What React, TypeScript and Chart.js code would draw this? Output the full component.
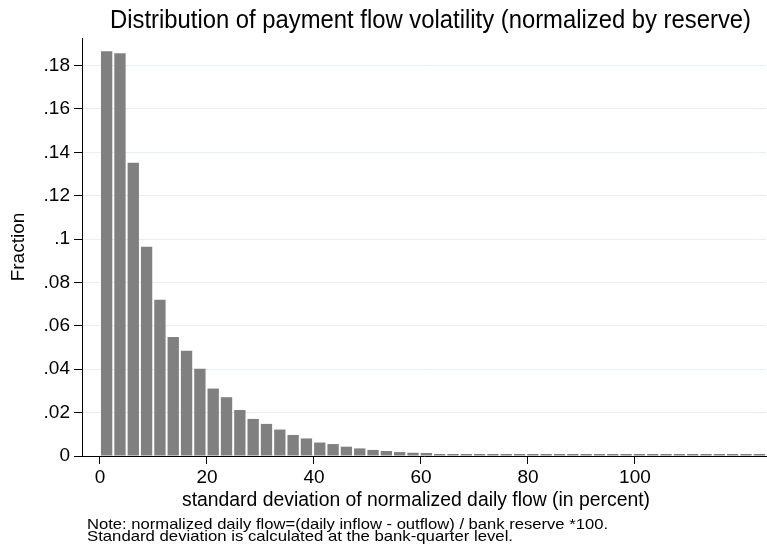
import React, { useEffect, useRef } from "react";
import { Chart, registerables } from "chart.js";

Chart.register(...registerables);

// ---- data ----
const BIN_WIDTH = 2.49;
const fractions = [
  0.1866, 0.1857, 0.1352, 0.0965, 0.072, 0.0549, 0.0485, 0.0402, 0.0311, 0.0271,
  0.0212, 0.0171, 0.0148, 0.0122, 0.0097, 0.0081, 0.0062, 0.0055, 0.0043, 0.0035,
  0.0028, 0.0023, 0.0018, 0.0015, 0.0014, 0.0009, 0.0009, 0.0009, 0.0008, 0.0006,
  0.0006, 0.0005, 0.0005, 0.0004, 0.0004, 0.0004, 0.0004, 0.0003, 0.0003, 0.0003,
  0.0003, 0.0003, 0.0003, 0.0002, 0.0002, 0.0002, 0.0002, 0.0002, 0.0002, 0.0002,
];
const xTickValues = [0, 20, 40, 60, 80, 100];
const yTickValues = [0, 0.02, 0.04, 0.06, 0.08, 0.1, 0.12, 0.14, 0.16, 0.18];
const yTickLabels = ["0", ".02", ".04", ".06", ".08", ".1", ".12", ".14", ".16", ".18"];
const X_MIN = -3.36;
const X_MAX = 124.5;
const Y_MAX = 0.1927;

const TITLE = "Distribution of payment flow volatility (normalized by reserve)";
const X_TITLE = "standard deviation of normalized daily flow (in percent)";
const Y_TITLE = "Fraction";
const NOTE_LINES = [
  "Note: normalized daily flow=(daily inflow - outflow) / bank reserve *100.",
  "Standard deviation is calculated at the bank-quarter level.",
];

const FONT_FAMILY = '"Liberation Sans", Arial, Helvetica, sans-serif';

function drawFit(
  ctx: CanvasRenderingContext2D,
  text: string,
  x: number,
  y: number,
  size: number,
  width: number
) {
  ctx.save();
  ctx.font = `${size}px ${FONT_FAMILY}`;
  const w = ctx.measureText(text).width;
  ctx.translate(x, y);
  ctx.scale(width / w, 1);
  ctx.textAlign = "left";
  ctx.textBaseline = "alphabetic";
  ctx.fillStyle = "#000";
  ctx.fillText(text, 0, 0);
  ctx.restore();
}

const textPlugin = {
  id: "stataText",
  afterDraw(chart: any) {
    const ctx: CanvasRenderingContext2D = chart.ctx;
    drawFit(ctx, TITLE, 110, 27.5, 25, 641);
    drawFit(ctx, X_TITLE, 182, 506, 20.5, 468);
    drawFit(ctx, NOTE_LINES[0], 87, 528.5, 14.5, 521);
    drawFit(ctx, NOTE_LINES[1], 87, 541, 14.5, 426);
    ctx.save();
    ctx.translate(24, 247);
    ctx.rotate(-Math.PI / 2);
    ctx.font = `19px ${FONT_FAMILY}`;
    ctx.textAlign = "center";
    ctx.textBaseline = "alphabetic";
    ctx.fillStyle = "#000";
    ctx.fillText(Y_TITLE, 0, 0);
    ctx.restore();
  },
};

export default function App() {
  const ref = useRef<HTMLCanvasElement | null>(null);
  useEffect(() => {
    if (!ref.current) return;
    const chart = new Chart(ref.current, {
      type: "bar",
      data: {
        datasets: [
          {
            data: fractions.map((y, i) => ({ x: (i + 0.5) * BIN_WIDTH, y })),
            backgroundColor: "#808080",
            borderWidth: 0,
            barPercentage: 1,
            categoryPercentage: 0.85,
            minBarLength: 2,
          },
        ],
      },
      options: {
        animation: false,
        responsive: false,
        layout: { padding: { left: 0, right: 1, top: 38, bottom: 0 } },
        plugins: {
          legend: { display: false },
          tooltip: { enabled: false },
          title: { display: false },
        },
        scales: {
          x: {
            type: "linear",
            min: X_MIN,
            max: X_MAX,
            offset: false,
            afterBuildTicks: (scale: any) => {
              scale.ticks = xTickValues.map((v) => ({ value: v }));
            },
            afterFit: (scale: any) => {
              scale.height = 96;
            },
            grid: {
              offset: false,
              drawOnChartArea: false,
              drawTicks: true,
              tickLength: 8,
              color: "#000",
              tickColor: "#000",
            },
            border: { display: true, color: "#000", width: 1, z: 1 },
            ticks: {
              color: "#000",
              padding: 2,
              maxRotation: 0,
              autoSkip: false,
              font: { family: FONT_FAMILY, size: 19 },
              callback: (v: any) => String(v),
            },
          },
          y: {
            min: 0,
            max: Y_MAX,
            afterBuildTicks: (scale: any) => {
              scale.ticks = yTickValues.map((v) => ({ value: v }));
            },
            afterFit: (scale: any) => {
              scale.width = 82;
            },
            grid: {
              drawOnChartArea: true,
              drawTicks: true,
              tickLength: 8,
              color: "#e8f0f2",
              tickColor: "#000",
            },
            border: { display: true, color: "#000", width: 1 },
            ticks: {
              color: "#000",
              padding: 4,
              autoSkip: false,
              font: { family: FONT_FAMILY, size: 19 },
              callback: (v: any) => {
                const idx = yTickValues.findIndex((t) => Math.abs(t - v) < 1e-9);
                return idx >= 0 ? yTickLabels[idx] : "";
              },
            },
          },
        },
      },
      plugins: [textPlugin],
    } as any);
    return () => chart.destroy();
  }, []);
  return (
    <div style={{ position: "absolute", left: 0, top: 0, width: 767, height: 552, background: "#fff" }}>
      <canvas ref={ref} width={767} height={552} />
    </div>
  );
}
